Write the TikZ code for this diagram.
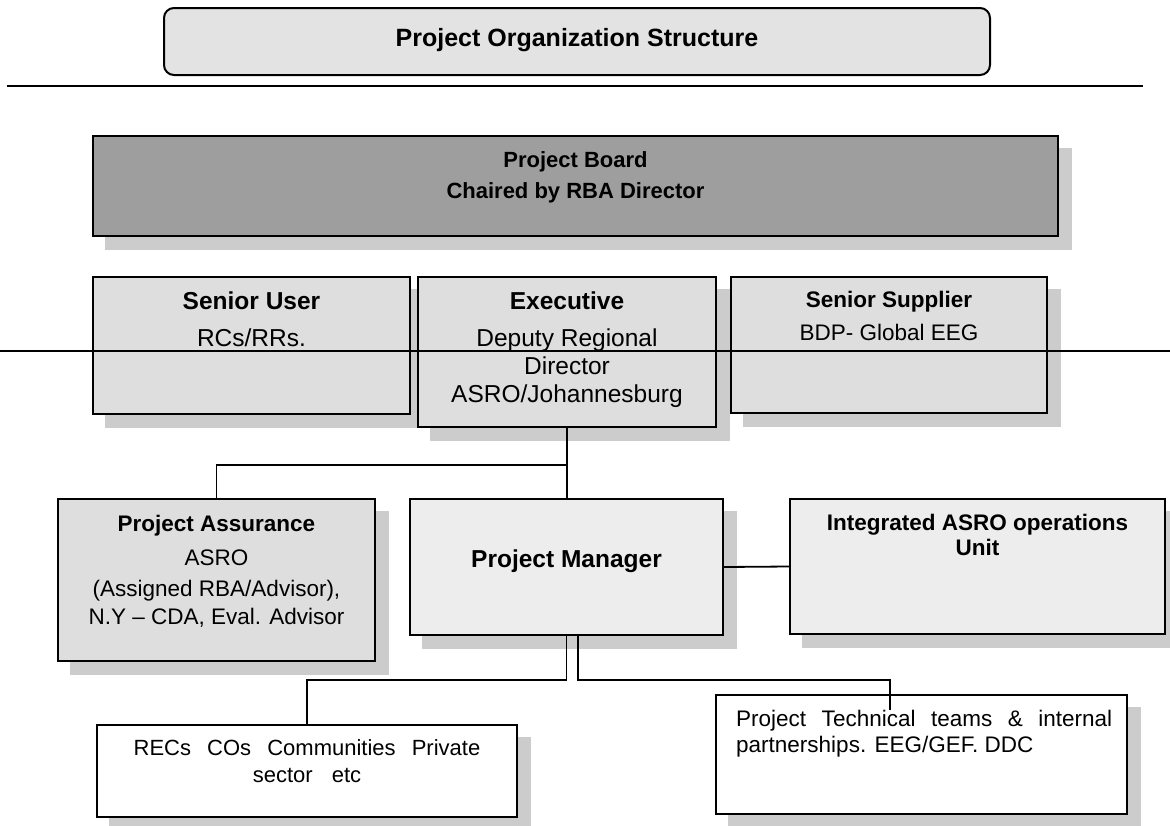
\documentclass[tikz,border=0pt]{standalone}
\usepackage{fontspec}
\setmainfont{Liberation Sans}
\usetikzlibrary{calc,backgrounds}
\definecolor{boardgray}{gray}{0.62}
\definecolor{panelgray}{gray}{0.87}
\definecolor{titlegray}{gray}{0.89}
\definecolor{palegray}{gray}{0.93}
\definecolor{shadowgray}{gray}{0.80}
\newcommand{\techfont}{\fontsize{22.5}{26}\selectfont\hyphenpenalty=10000 \parindent=0pt }
\begin{document}
\begin{tikzpicture}[x=1pt,y=-1pt,
  box/.style={draw=black, line width=2pt, inner sep=0pt, rectangle},
  conn/.style={line width=1.8pt, draw=black},
  txt/.style={inner sep=0pt, align=center},
  hd/.style={font=\bfseries\fontsize{25}{30}\selectfont},
]
\useasboundingbox (0,0) rectangle (1170,825);

% title banner and rule under it
\node[box, rounded corners=10pt, fill=titlegray, minimum width=826pt, minimum height=67pt] (title) at (577,41.5) {};
\node[txt, anchor=base, hd] (title-t) at (577,46) {Project Organization Structure};
\coordinate (rule-l) at (7,86);
\coordinate (rule-r) at (1143,86);
\draw[line width=1.8pt] (rule-l) -- (rule-r);

% boxes
\node[box, fill=boardgray, minimum width=965pt, minimum height=100pt] (board) at (575.5,186) {};
\node[box, fill=panelgray, minimum width=317pt, minimum height=137pt] (su) at (251.5,345.5) {};
\node[box, fill=panelgray, minimum width=298pt, minimum height=150pt] (exec) at (567,352) {};
\node[box, fill=panelgray, minimum width=316pt, minimum height=136pt] (ss) at (889,345) {};
\node[box, fill=panelgray, minimum width=317pt, minimum height=162pt] (pa) at (216.5,580) {};
\node[box, fill=palegray, minimum width=313pt, minimum height=136pt] (pm) at (566.5,567) {};
\node[box, fill=palegray, minimum width=375pt, minimum height=135pt] (iu) at (977.5,566.5) {};
\node[box, fill=white, minimum width=420pt, minimum height=92pt] (rec) at (307,771) {};
\node[box, fill=white, minimum width=411pt, minimum height=119pt] (tech) at (921.5,754.5) {};

% drop shadows
\begin{scope}[on background layer]
  \foreach \b in {board,su,exec,ss,pa,pm,iu,rec,tech}
    \fill[shadowgray] ($(\b.south west)+(13,13)$) rectangle ($(\b.north east)+(13,13)$);
\end{scope}

% box texts
\node[txt, anchor=north, font=\bfseries\fontsize{22}{31}\selectfont] (board-t) at (575.5,151)
  {Project Board\\ Chaired by RBA Director};
\node[txt, anchor=north, font=\fontsize{24.5}{28}\selectfont] (su-t) at (251.5,292)
  {\textbf{Senior User}\\[9pt] RCs/RRs.};
\node[txt, anchor=north, font=\fontsize{24.5}{28}\selectfont] (exec-t) at (567,292)
  {\textbf{Executive}\\[9pt] Deputy Regional\\ Director\\ ASRO/Johannesburg};
\node[txt, anchor=north, font=\fontsize{22.5}{33}\selectfont] (ss-t) at (889,290.5)
  {\textbf{Senior Supplier}\\ BDP- Global EEG};
\node[txt, anchor=north, font=\fontsize{22.5}{28}\selectfont] (pa-t) at (216.5,514.5)
  {\textbf{Project Assurance}\\[6pt] ASRO\\[3pt] (Assigned RBA/Advisor),\\ N.Y – CDA, Eval. Advisor};
\node[txt, anchor=base, font=\bfseries\fontsize{24.5}{28}\selectfont] (pm-t) at (566.5,567)
  {Project Manager};
\node[txt, anchor=north, font=\bfseries\fontsize{22.5}{25}\selectfont] (iu-t) at (977.5,513.5)
  {Integrated ASRO operations\\ Unit};
\node[txt, anchor=north, font=\fontsize{22}{27}\selectfont] (rec-t) at (307,739)
  {RECs\hspace{10pt} COs\hspace{10pt} Communities\hspace{10pt} Private\\ sector\hspace{13pt} etc};
\node[inner sep=0pt, anchor=north west, text width=376pt, align=justify, font=\techfont] (tech-t) at (736,709.5)
  {Project Technical teams \& internal partnerships. EEG/GEF. DDC};

% reporting lines
\coordinate (j-top) at ($(exec.south)+(0,37)$);
\draw[conn] (exec.south) -- (exec.south |- pm.north);
\draw[conn] (j-top) -| (pa.north);
\draw[conn] (pm.east) -- (iu.west);
\draw[conn] (pm.south) -- ++(0,44) -| (rec.north);
\coordinate (tech-in) at (890,710);
\draw[conn] ([xshift=11.5pt]pm.south) -- ++(0,44) -| (tech-in);

% thin rule crossing the middle row
\coordinate (mid-l) at (0,351);
\coordinate (mid-r) at (1170,351);
\draw[line width=1.1pt] (mid-l) -- (mid-r);
\end{tikzpicture}
\end{document}
